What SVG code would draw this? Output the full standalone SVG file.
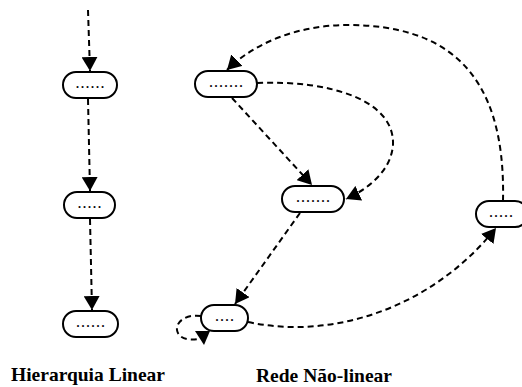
<svg xmlns="http://www.w3.org/2000/svg" width="522" height="387" viewBox="0 0 522 387">
<style>
.node rect{fill:#fff;stroke:#000;stroke-width:2}
.node text{font-family:"Liberation Serif",serif;font-weight:bold;font-size:12px;letter-spacing:2px;text-anchor:middle;fill:#000}
.edge{fill:none;stroke:#000;stroke-width:2;stroke-dasharray:6,4;marker-end:url(#ah)}
.head{fill:#000}
.title{font-family:"Liberation Serif",serif;font-weight:bold;font-size:19.5px;text-anchor:middle;fill:#000}
</style>
<defs>
<marker id="ah" viewBox="0 0 14 16" refX="14" refY="8" markerUnits="userSpaceOnUse" markerWidth="14" markerHeight="16" orient="auto">
<path d="M0,0 L14,8 L0,16 z" fill="#000"/>
</marker>
</defs>
<rect width="522" height="387" fill="#fff"/>
<g id="connectors">
<path class="edge" d="M88,10 L90,71"/>
<path class="edge" d="M88,99 L90,191"/>
<path class="edge" d="M90,219 L92,310"/>
<path class="edge" d="M503,201 C506,70 445,25 347,25 C300,25 255,42 227,70"/>
<path class="edge" d="M257,83 C330,80 395,100 393,145 C391,170 370,188 346,199"/>
<path class="edge" d="M232,98 L312,185"/>
<path class="edge" d="M300,213 L235,304"/>
<path class="edge" d="M248,322 C330,340 430,310 496,228"/>
<path class="edge" style="marker-end:none" d="M201,316 C185,314 176,322 177,330 C178,338 188,341 198,339"/>
<polygon class="head" points="195,331 210,331 204,345"/>
</g>
<g id="n1" class="node"><rect x="63" y="72" width="54" height="26" rx="13"/><text x="91" y="88">......</text></g>
<g id="n2" class="node"><rect x="64" y="192" width="51" height="26" rx="13"/><text x="90.5" y="208">.....</text></g>
<g id="n3" class="node"><rect x="63" y="311" width="55" height="26" rx="13"/><text x="91.5" y="327">......</text></g>
<g id="nA" class="node"><rect x="195" y="71" width="62" height="26" rx="13"/><text x="227" y="87">.......</text></g>
<g id="nB" class="node"><rect x="282" y="186" width="62" height="26" rx="13"/><text x="314" y="202">.......</text></g>
<g id="nC" class="node"><rect x="476" y="201" width="52" height="26" rx="13"/><text x="502" y="217">.....</text></g>
<g id="nD" class="node"><rect x="201" y="305" width="47" height="26" rx="13"/><text x="225.5" y="321">....</text></g>
<text class="title" x="88" y="381">Hierarquia Linear</text>
<text class="title" x="324" y="382">Rede Não-linear</text>
</svg>
